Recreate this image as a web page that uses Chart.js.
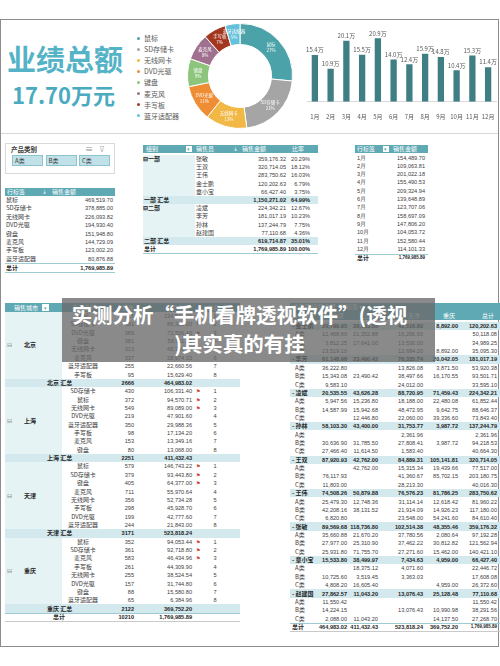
<!DOCTYPE html>
<html>
<head>
<meta charset="utf-8">
<script src="https://cdn.jsdelivr.net/npm/chart.js@4.4.0/dist/chart.umd.min.js"></script>
<style>
  body { margin: 0; background: #fff; }
  #page { position: relative; width: 500px; height: 666px; overflow: hidden; background: #fff;
          font-family: "Noto Sans CJK SC", "Noto Sans", sans-serif; color: #404040; }
  .t { position: absolute; white-space: nowrap; font-size: 6px; height: 10px; line-height: 10px; }
  .n { font-family: "Liberation Sans", "Noto Sans", sans-serif; font-size: 5.6px; }
  .b { position: absolute; }
  canvas { position: absolute; }
</style>
</head>
<body>
<div id="page">
  <div class="b" style="left:0;top:19px;width:497px;height:626px;border:1px solid #8c8c8c;"></div>
  <div class="b" style="left:1px;top:133px;width:497px;height:1px;background:#d6d6d6;"></div>
  <div class="t" style="left:7px;top:36px;height:44px;line-height:44px;font-size:29px;font-weight:700;color:#55b3c7;">业绩总额</div>
  <div class="t" style="left:12px;top:80px;height:28px;line-height:28px;font-size:22px;font-weight:700;color:#4aabc0;">17.70万元</div>
  <canvas id="donutChart" width="106" height="106" style="left:187px;top:23px;"></canvas>
  <canvas id="barChart" width="200" height="97" style="left:298px;top:26px;"></canvas>
</div>

<script>
// ============================================
// Data
// ============================================

const products = ['鼠标', 'SD存储卡', '无线网卡', 'DVD光驱', '键盘', '麦克风', '手写板', '蓝牙适配器'];
const productSales = [469519.70, 378885.00, 226093.82, 194930.40, 151948.80, 144729.09, 123002.20, 80876.88];
const productColors = ['#4ba3a9', '#a5a5a5', '#f2b845', '#ef8d34', '#8dc57c', '#a0718f', '#a3361f', '#63c1da'];

const months = ['1月', '2月', '3月', '4月', '5月', '6月', '7月', '8月', '9月', '10月', '11月', '12月'];
const monthSales = [154489.70, 109063.81, 201022.18, 155490.53, 209324.94, 139648.89,
                    123707.06, 158697.09, 147806.20, 104053.72, 152580.44, 114101.33];

const productClasses = ['A类', 'B类', 'C类'];

const groups = ['一部', '二部'];
const groupMembers = [['张敏', '王双', '王伟', '金士鹏', '章小宝'], ['凌斌', '李芳', '孙林', '赵建国']];
const memberSales = [[359176.32, 320714.05, 283750.62, 120202.63, 66427.40],
                     [224342.21, 181017.19, 137244.79, 77110.68]];

const cities = ['北京', '上海', '天津', '重庆'];
const cityProducts = [
  ['鼠标', 'SD存储卡', 'DVD光驱', '键盘', '无线网卡', '麦克风', '蓝牙适配器', '手写板'],
  ['SD存储卡', '鼠标', '无线网卡', 'DVD光驱', '蓝牙适配器', '手写板', '麦克风', '键盘'],
  ['鼠标', 'SD存储卡', '键盘', '麦克风', '无线网卡', '手写板', 'DVD光驱', '蓝牙适配器'],
  ['鼠标', 'SD存储卡', '麦克风', '手写板', '无线网卡', 'DVD光驱', '键盘', '蓝牙适配器']
];
const cityQty = [
  [515, 381, 389, 381, 313, 337, 255, 95],
  [430, 372, 549, 219, 350, 98, 153, 80],
  [579, 379, 405, 711, 356, 298, 199, 244],
  [352, 361, 583, 261, 255, 157, 88, 65]
];
const citySales = [
  [134512.00, 86391.00, 72506.40, 58911.33, 45398.00, 28974.33, 22660.56, 15629.40],
  [106331.40, 94570.71, 89089.00, 47901.60, 29988.36, 17134.20, 13349.16, 13068.00],
  [146743.22, 93443.80, 64377.00, 55970.64, 52734.28, 45928.70, 42777.60, 21843.00],
  [94053.44, 92718.80, 46434.96, 44309.90, 38524.54, 31744.80, 15580.80, 6384.96]
];

// seller -> [A类, B类, C类] -> [北京, 上海, 天津, 重庆], null = empty cell
const sellers = ['金士鹏', '李芳', '凌斌', '孙林', '王双', '王伟', '张敏', '章小宝', '赵建国'];
const sellerCitySales = [
  [[12468.60, 21352.88, 16296.60, null], [3812.25, 17641.00, 13536.00, null], [13519.10, null, 12684.20, 8892.00]],
  [[36222.80, null, 13826.08, 3871.50], [15343.08, 23490.42, 38497.66, 16170.55], [9583.10, null, 24012.00, null]],
  [[5947.56, 15236.80, 18188.00, 22480.08], [14587.99, 15942.68, 48472.95, 9642.75], [null, 12446.80, 22060.00, 39336.60]],
  [[null, null, 2361.96, null], [30636.90, 31785.50, 27808.41, 3987.72], [27466.40, 11614.50, 1583.40, null]],
  [[null, 42762.00, 15315.34, 19439.66], [76117.93, null, 41360.67, 85702.15], [11803.00, null, 28213.30, null]],
  [[25479.30, 12748.36, 31114.14, 12618.42], [42208.16, 38131.52, 21914.09, 14926.23], [6820.80, null, 23548.00, 54241.60]],
  [[35660.88, 21670.20, 37780.56, 2080.64], [27977.00, 25310.90, 37462.22, 30812.82], [25931.80, 71755.70, 27271.60, 15462.00]],
  [[null, 18375.12, 4071.60, null], [10725.60, 3519.45, 3363.03, null], [4808.20, 16605.40, null, 4959.00]],
  [[11550.42, null, null, null], [14224.15, null, 13076.43, 10990.98], [2088.00, 11043.20, null, 14137.50]]
];

const grandTotal = 1769985.89;

// ============================================
// Helpers
// ============================================

const page = document.getElementById('page');
const TEAL = '#5fa9b4';
const BAND = '#d3e9ed';
const PALE = '#e6f3f5';

function money(v) {
  return v.toLocaleString('en-US', { minimumFractionDigits: 2, maximumFractionDigits: 2 });
}
function sum(arr) {
  return arr.reduce((a, b) => a + (b || 0), 0);
}
function rect(x, y, w, h, bg, extra) {
  const d = document.createElement('div');
  d.className = 'b';
  Object.assign(d.style, { left: x + 'px', top: y + 'px', width: w + 'px', height: h + 'px', background: bg }, extra || {});
  page.appendChild(d);
  return d;
}
// y is the text centre line; align right means x is the right edge
function txt(s, x, y, align, style) {
  const d = document.createElement('div');
  d.className = /^[0-9]/.test(s) ? 't n' : 't';
  d.textContent = s;
  d.style.top = (y - 5) + 'px';
  if (align === 'right') {
    d.style.right = (500 - x) + 'px';
  } else if (align === 'center') {
    d.style.left = x + 'px'; d.style.transform = 'translateX(-50%)';
  } else {
    d.style.left = x + 'px';
  }
  if (style) Object.assign(d.style, style);
  page.appendChild(d);
  return d;
}
const W = { color: '#fff' };
const B = { fontWeight: '700', color: '#262626' };

// ============================================
// Legend next to the donut
// ============================================

products.forEach((p, i) => {
  const y = 38 + i * 11.1;
  rect(137, y - 1.5, 3, 3, productColors[i], { borderRadius: '50%' });
  txt(p, 144, y, 'left', { fontSize: '7px', color: '#595959' });
});

// ============================================
// Charts
// ============================================

const sliceLabels = {
  id: 'sliceLabels',
  afterDatasetsDraw(chart) {
    const ctx = chart.ctx;
    const meta = chart.getDatasetMeta(0);
    ctx.save();
    ctx.fillStyle = '#fff';
    ctx.textAlign = 'center';
    ctx.textBaseline = 'middle';
    ctx.font = '4.5px "Noto Sans CJK SC"';
    meta.data.forEach((arc, i) => {
      const pos = arc.tooltipPosition();
      const pct = Math.round(productSales[i] / grandTotal * 100) + '%';
      ctx.fillText(products[i], pos.x, pos.y - 3);
      ctx.fillText(pct, pos.x, pos.y + 3);
    });
    ctx.restore();
  }
};

new Chart(document.getElementById('donutChart'), {
  type: 'doughnut',
  data: {
    labels: products,
    datasets: [{
      data: productSales,
      backgroundColor: productColors,
      borderColor: '#fff',
      borderWidth: 1
    }]
  },
  options: {
    responsive: false,
    animation: false,
    cutout: '60%',
    plugins: { legend: { display: false }, tooltip: { enabled: false } }
  },
  plugins: [sliceLabels]
});

const barLabels = {
  id: 'barLabels',
  afterDatasetsDraw(chart) {
    const ctx = chart.ctx;
    const meta = chart.getDatasetMeta(0);
    ctx.save();
    ctx.fillStyle = '#595959';
    ctx.textAlign = 'center';
    ctx.textBaseline = 'bottom';
    ctx.font = '6px "Noto Sans CJK SC"';
    meta.data.forEach((bar, i) => {
      ctx.fillText(chart.data.datasets[0].data[i].toFixed(1) + '万', bar.x, bar.y - 2);
    });
    ctx.restore();
  }
};

new Chart(document.getElementById('barChart'), {
  type: 'bar',
  data: {
    labels: months,
    datasets: [{
      data: monthSales.map(v => v / 10000),
      backgroundColor: '#3f7f84',
      barPercentage: 0.4,
      categoryPercentage: 1
    }]
  },
  options: {
    responsive: false,
    animation: false,
    layout: { padding: { left: 9, right: 2, top: 0, bottom: 0 } },
    plugins: { legend: { display: false }, tooltip: { enabled: false } },
    scales: {
      y: { display: false, min: 0, max: 25 },
      x: {
        grid: { display: false },
        border: { color: '#d9d9d9' },
        ticks: {
          color: '#595959', font: { size: 6, family: 'Noto Sans CJK SC' }, padding: 3,
          maxRotation: 0, minRotation: 0, autoSkip: false
        }
      }
    }
  },
  plugins: [barLabels]
});

// ============================================
// Slicer
// ============================================

rect(5, 143, 110, 31, '#fff', { border: '1px solid #d9d9d9', boxSizing: 'border-box' });
txt('产品类别', 11, 149, 'left', { fontSize: '6.5px', fontWeight: '700', color: '#404040' });
txt('≡', 85, 149, 'left', { fontSize: '8px', color: '#8c8c8c' });
txt('⊽', 99, 149, 'left', { fontSize: '8px', color: '#bfbfbf' });
productClasses.forEach((c, i) => {
  rect(12 + i * 33.5, 155, 31, 11, '#bfe1e7', { border: '1px solid #8cc4cd', boxSizing: 'border-box' });
  txt(c, 15 + i * 33.5, 160.5, 'left', { color: '#404040' });
});

// ============================================
// Table 1: sales by product
// ============================================

rect(5, 188, 110, 8, TEAL);
txt('行标签', 7, 192, 'left', W);
txt('⇣', 42, 192, 'left', W);
txt('销售金额', 52, 192, 'left', W);
products.forEach((p, i) => {
  const y = 200 + i * 8.4;
  txt(p, 6, y, 'left');
  txt(money(productSales[i]), 113, y, 'right');
});
rect(5, 263, 110, 0.8, '#9fcbd3');
txt('总计', 6, 267.5, 'left', B);
txt(money(grandTotal), 113, 267.5, 'right', B);
rect(5, 272, 110, 0.8, '#9fcbd3');

// ============================================
// Table 2: sales by group / seller
// ============================================

rect(143, 145, 175, 8, TEAL);
txt('组别', 146, 149, 'left', W);
rect(186, 146, 6, 6, '#fff');
txt('▾', 187, 149, 'left', { color: TEAL, fontSize: '5px' });
txt('销售员', 196, 149, 'left', W);
txt('⇣', 233, 149, 'left', W);
txt('销售金额', 242, 149, 'left', W);
txt('比率', 292, 149, 'left', W);

let row2 = 0;
groups.forEach((g, gi) => {
  const top = 155 + row2 * 8.2;
  rect(143, top, 52, groupMembers[gi].length * 8.2, PALE);
  txt('⊟' + g, 143, top + 4, 'left', B);
  groupMembers[gi].forEach((m, mi) => {
    const y = 159 + row2 * 8.2;
    txt(m, 196, y, 'left');
    txt(money(memberSales[gi][mi]), 286, y, 'right');
    txt((memberSales[gi][mi] / grandTotal * 100).toFixed(2) + '%', 310, y, 'right');
    row2++;
  });
  const y = 159 + row2 * 8.2;
  const gsum = sum(memberSales[gi]);
  rect(143, y - 4, 175, 8.2, BAND);
  txt(g + ' 汇总', 144, y, 'left', B);
  txt(money(gsum), 286, y, 'right', B);
  txt((gsum / grandTotal * 100).toFixed(2) + '%', 310, y, 'right', B);
  row2++;
});
const y2 = 159 + row2 * 8.2;
txt('总计', 144, y2, 'left', B);
txt(money(grandTotal), 286, y2, 'right', B);
txt('100.00%', 310, y2, 'right', B);
rect(143, y2 + 4, 175, 0.8, '#9fcbd3');

// ============================================
// Table 3: sales by month
// ============================================

rect(355, 145, 73, 8, TEAL);
txt('行标签', 357, 149, 'left', W);
rect(383, 146, 6, 6, '#fff');
txt('▾', 384, 149, 'left', { color: TEAL, fontSize: '5px' });
txt('销售金额', 393, 149, 'left', W);
months.forEach((m, i) => {
  const y = 157.5 + i * 8.3;
  txt(m, 357, y, 'left');
  txt(money(monthSales[i]), 425, y, 'right');
});
rect(355, 253.5, 73, 0.8, '#9fcbd3');
txt('总计', 357, 258, 'left', B);
txt(money(sum(monthSales)), 425, 258, 'right', { fontWeight: '700', color: '#262626', fontSize: '4.5px' });

// ============================================
// Table 4: city / product ranking
// ============================================

const R = 8.36;
rect(5, 303, 235, 9, TEAL);
txt('销售城市', 14, 307.5, 'left', W);
rect(42, 304, 7, 7, '#fff');
txt('▾', 43.5, 307.5, 'left', { color: TEAL, fontSize: '5px' });
txt('产品名称', 72, 307.5, 'left', W);
txt('数量', 122, 307.5, 'left', W);
txt('销售金额', 165, 307.5, 'left', W);
txt('排名', 207, 307.5, 'left', W);

let row4 = 0;
cities.forEach((c, ci) => {
  const top = 312 + row4 * R;
  rect(5, top, 57, 8 * R, PALE);
  txt('⊟', 7, top + 4 * R, 'left', { color: '#7f7f7f' });
  txt(c, 30, top + 4 * R, 'center', B);
  cityProducts[ci].forEach((p, pi) => {
    const y = 316 + row4 * R;
    txt(p, 83, y, 'center');
    txt(String(cityQty[ci][pi]), 134, y, 'right');
    txt(money(citySales[ci][pi]), 192, y, 'right');
    if (pi < 3) txt('⚑', 196, y, 'left', { color: '#d23b2a', fontSize: '5px' });
    txt(String(pi + 1), 215, y, 'center');
    row4++;
  });
  const y = 316 + row4 * R;
  rect(5, y - R / 2, 235, R, BAND);
  txt(c + ' 汇总', 47, y, 'left', B);
  txt(String(sum(cityQty[ci])), 134, y, 'right', B);
  txt(money(sum(citySales[ci])), 192, y, 'right', B);
  row4++;
});
const y4 = 316 + row4 * R;
rect(5, y4 - R / 2, 235, 0.8, '#9fcbd3');
txt('总计', 53, y4, 'left', B);
txt(String(sum(cityQty.map(sum))), 134, y4, 'right', B);
txt(money(sum(citySales.map(sum))), 192, y4, 'right', B);
rect(5, y4 + R / 2, 235, 1, '#c9c9c9');

// ============================================
// Table 5: seller x city
// ============================================

const colRight = [347, 378, 423, 458, 497];
rect(290, 303, 210, 17, TEAL);
txt('求和项:销售金额', 292, 307, 'left', W);
txt('列标签 ▾', 340, 307, 'left', W);
txt('行标签 ▾', 292, 315.5, 'left', W);
cities.concat(['总计']).forEach((c, i) => txt(c, colRight[i] - 15, 315.5, 'left', W));

let row5 = 0;
const cityTotals = [0, 0, 0, 0];
sellers.forEach((s, si) => {
  const y = 326 + row5 * R;
  const parts = sellerCitySales[si];
  const perCity = [0, 1, 2, 3].map(k => sum(parts.map(r => r[k])));
  perCity.forEach((v, k) => { cityTotals[k] += v; });
  rect(290, y - R / 2, 210, R, BAND);
  txt('- ' + s, 292, y, 'left', B);
  perCity.forEach((v, k) => txt(money(v), colRight[k], y, 'right', B));
  txt(money(sum(perCity)), colRight[4], y, 'right', B);
  row5++;
  parts.forEach((r, ri) => {
    const yy = 326 + row5 * R;
    txt(productClasses[ri], 295, yy);
    r.forEach((v, k) => { if (v !== null) txt(money(v), colRight[k], yy, 'right'); });
    txt(money(sum(r)), colRight[4], yy, 'right');
    row5++;
  });
});
const y5 = 326 + row5 * R;
rect(290, y5 - R / 2, 210, 0.8, '#9fcbd3');
txt('总计', 292, y5, 'left', B);
cityTotals.forEach((v, k) => txt(money(v), colRight[k], y5, 'right', B));
txt(money(sum(cityTotals)), colRight[4], y5, 'right', { fontWeight: '700', color: '#262626', fontSize: '4.5px' });
rect(290, y5 + R / 2, 210, 1, '#c9c9c9');

// ============================================
// Title banner over the lower tables
// ============================================

const banner = rect(62, 298, 373, 64, 'rgba(105,105,105,0.78)', { zIndex: 5 });
const bt = document.createElement('div');
Object.assign(bt.style, {
  position: 'absolute', left: '0', top: '2px', width: '355px', textAlign: 'center',
  color: '#fff', fontWeight: '700', fontSize: '20.5px', lineHeight: '29px'
});
bt.innerHTML = '实测分析“手机看牌透视软件”(透视<br>)其实真的有挂';
banner.appendChild(bt);
</script>
</body>
</html>
